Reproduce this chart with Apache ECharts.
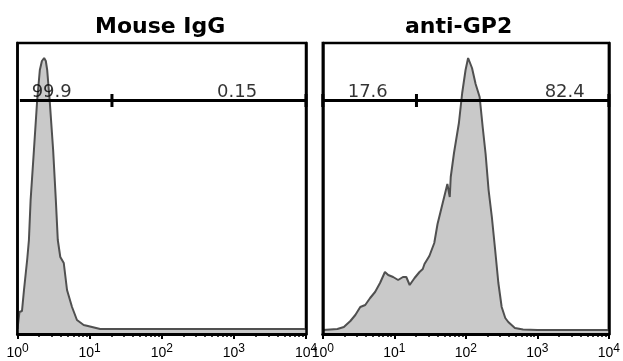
<!DOCTYPE html>
<html>
<head>
<meta charset="utf-8">
<script src="https://cdn.jsdelivr.net/npm/echarts@6/dist/echarts.min.js"></script>
<style>
  html, body { margin: 0; padding: 0; background: #fff; }
  #main { width: 623px; height: 361px; }
</style>
</head>
<body>
<div id="main"></div>
<script>
// histogram outlines: fluorescence (log scale) and event count
const igGX = [1.0, 1.05, 1.065, 1.154, 1.23, 1.365, 1.44, 1.52, 1.69, 1.875, 2.04, 2.18, 2.34, 2.47, 2.58, 2.81, 3.12, 3.4, 3.62, 3.92, 4.38, 4.86, 5.7, 6.67, 8.27, 10.8, 14.0, 100, 1000, 10000];
const igGY = [5, 6, 22, 23, 44, 75, 94, 134, 184, 234, 264, 273, 276, 273, 264, 231, 184, 134, 94, 77, 71, 44, 27, 14, 9, 7, 5, 5, 5, 5];

const gp2X = [1.0, 1.04, 1.6, 1.97, 2.43, 2.85, 3.34, 3.92, 4.59, 5.38, 6.31, 7.39, 8.22, 9.62, 11.3, 13.2, 14.7, 16.4, 19.2, 22.5, 25.0, 26.4, 30.9, 36.2, 40.2, 47.1, 55.2, 59.6, 61.5, 68.3, 80.0, 88.9, 99.1, 107.6, 122, 137, 156, 172, 189, 208, 231, 257, 285, 317, 356, 392, 485, 631, 1000, 3000, 10000];
const gp2Y = [4, 4, 5, 7, 13, 19, 27, 29, 36, 42, 51, 62, 59, 57, 54, 57, 57, 49, 56, 62, 65, 70, 78, 91, 110, 130, 150, 137, 157, 181, 211, 241, 264, 276, 266, 250, 237, 207, 180, 144, 117, 84, 51, 27, 16, 12, 6, 4.5, 4, 4, 4];

// gate: start, split, end and its height
const gateIgG = [1.08, 20.4, 10000];
const gateGP2 = [1.0, 20.4, 10000];
const gateY = 233.5;

const labelsIgG = ["99.9", "0.15"];
const labelsIgGX = [2.98, 1107];
const labelsGP2 = ["17.6", "82.4"];
const labelsGP2X = [4.25, 2412];
const labelY = 242;

const titles = ["Mouse IgG", "anti-GP2"];
const minorTicks = [2, 3, 4, 5, 6, 7, 8, 9, 20, 30, 40, 50, 60, 70, 80, 90, 200, 300, 400, 500, 600, 700, 800, 900, 2000, 3000, 4000, 5000, 6000, 7000, 8000, 9000];
const yMax = 291;

const chart = echarts.init(document.getElementById("main"));

const zip = (xs, ys) => xs.map((x, i) => [x, ys[i]]);

const grids = [
  { left: 17.5, top: 43, width: 288.5, height: 291 },
  { left: 322.8, top: 43, width: 287.5, height: 291 },
];

const xAxes = [];
const yAxes = [];
grids.forEach((g, i) => {
  xAxes.push({
    gridIndex: i,
    type: "log",
    logBase: 10,
    min: 1,
    max: 10000,
    position: "bottom",
    z: 5,
    axisLine: { show: true, onZero: false, lineStyle: { color: "#000", width: 3 } },
    axisTick: { show: true, length: 5, lineStyle: { color: "#000", width: 2 } },
    splitLine: { show: false },
    axisLabel: {
      margin: 9,
      color: "#000",
      formatter: (v) => "{a|10}{b|" + Math.round(Math.log10(v)) + "}",
      rich: {
        a: { fontFamily: "Liberation Sans", fontSize: 14, color: "#000" },
        b: { fontFamily: "Liberation Sans", fontSize: 12, color: "#000", padding: [0, 0, 8, 0] },
      },
    },
  });
  xAxes.push({
    gridIndex: i,
    type: "log",
    logBase: 10,
    min: 1,
    max: 10000,
    position: "bottom",
    z: 5,
    axisLine: { show: false },
    axisTick: { show: true, length: 3, customValues: minorTicks, lineStyle: { color: "#000", width: 1.5 } },
    axisLabel: { show: false },
    splitLine: { show: false },
  });
  ["left", "right"].forEach((pos) => {
    yAxes.push({
      gridIndex: i,
      type: "value",
      min: 0,
      max: yMax,
      position: pos,
      z: 5,
      axisLine: { show: true, lineStyle: { color: "#000", width: 2.5 } },
      axisTick: { show: false },
      axisLabel: { show: false },
      splitLine: { show: false },
    });
  });
});

const histSeries = (i, xs, ys) => ({
  type: "line",
  xAxisIndex: i * 2,
  yAxisIndex: i * 2,
  data: zip(xs, ys),
  symbol: "none",
  lineStyle: { color: "#505050", width: 2 },
  areaStyle: { color: "#c9c9c9", opacity: 1 },
  z: 2,
});

const gateSeries = (i, xs, hideFirst) => ({
  type: "line",
  xAxisIndex: i * 2,
  yAxisIndex: i * 2,
  clip: false,
  symbol: "rect",
  symbolSize: [3, 13],
  showSymbol: true,
  itemStyle: { color: "#000" },
  lineStyle: { color: "#000", width: 3 },
  data: xs.map((x, k) =>
    k === 0 && hideFirst ? { value: [x, gateY], symbol: "none" } : { value: [x, gateY] }
  ),
  z: 4,
});

const labelSeries = (i, xs, names) => ({
  type: "scatter",
  xAxisIndex: i * 2,
  yAxisIndex: i * 2,
  symbolSize: 0,
  data: xs.map((x, k) => ({ value: [x, labelY], name: names[k] })),
  label: {
    show: true,
    position: [0, 0],
    align: "center",
    verticalAlign: "middle",
    formatter: "{b}",
    color: "#000",
    textBorderWidth: 0,
    fontFamily: "DejaVu Sans",
    fontSize: 18,
  },
  z: 6,
});

const option = {
  animation: false,
  backgroundColor: "#fff",
  title: [
    { text: titles[0], left: 95, top: 16, padding: 0 },
    { text: titles[1], left: 405, top: 16, padding: 0 },
  ].map((t) => ({
    ...t,
    textStyle: { fontFamily: "DejaVu Sans", fontWeight: "bold", fontSize: 22, color: "#000" },
  })),
  grid: grids.map((g) => ({ ...g, show: true, borderColor: "#000", borderWidth: 2.5, backgroundColor: "transparent" })),
  xAxis: xAxes,
  yAxis: yAxes,
  series: [
    histSeries(0, igGX, igGY),
    histSeries(1, gp2X, gp2Y),
    gateSeries(0, gateIgG, true),
    gateSeries(1, gateGP2, false),
    labelSeries(0, labelsIgGX, labelsIgG),
    labelSeries(1, labelsGP2X, labelsGP2),
  ],
};

chart.setOption(option);
</script>
</body>
</html>
